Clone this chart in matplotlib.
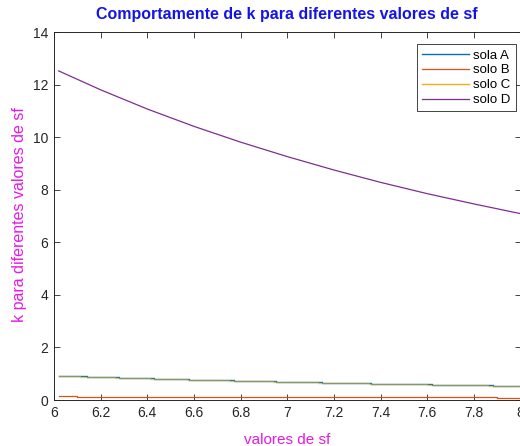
import matplotlib
matplotlib.use("Agg")
import matplotlib.pyplot as plt

plt.rcParams['font.family'] = ['Liberation Sans', 'DejaVu Sans']

# solo A, B, C: step values (breakpoint, level)
sf_A = [6.02, 6.14, 6.28, 6.43, 6.58, 6.77, 6.95, 7.15, 7.36, 7.62, 7.88, 8.0]
k_A = [0.93, 0.89, 0.85, 0.81, 0.77, 0.73, 0.69, 0.65, 0.61, 0.57, 0.53, 0.53]

sf_C = [6.02, 6.11, 6.26, 6.41, 6.57, 6.75, 6.94, 7.13, 7.35, 7.60, 7.86, 8.0]
k_C = [0.93, 0.88, 0.84, 0.80, 0.76, 0.72, 0.68, 0.64, 0.60, 0.56, 0.52, 0.52]

sf_B = [6.02, 6.10, 6.83, 7.90, 8.0]
k_B = [0.17, 0.13, 0.10, 0.08, 0.08]

# solo D: smooth curve
sf_D = [6.02, 6.2, 6.4, 6.6, 6.8, 7.0, 7.2, 7.4, 7.6, 7.8, 8.0]
k_D = [12.52, 11.80, 11.07, 10.41, 9.81, 9.26, 8.75, 8.28, 7.85, 7.46, 7.09]

labels = ['sola A', 'solo B', 'solo C', 'solo D']
colors = ['#0072BD', '#D95319', '#EDB120', '#7E2F8E']

fig = plt.figure(figsize=(5.2, 4.46), dpi=100)
ax = fig.add_axes([54/520, 1-400/446, 466.5/520, 368/446])

ax.plot(sf_A, k_A, drawstyle='steps-post', color=colors[0], lw=1.0, label=labels[0])
ax.plot(sf_B, k_B, drawstyle='steps-post', color=colors[1], lw=0.9, label=labels[1])
ax.plot(sf_C, k_C, drawstyle='steps-post', color=colors[2], lw=1.0, alpha=0.6, label=labels[2])
ax.plot(sf_D, k_D, color=colors[3], lw=0.9, label=labels[3])

ax.set_xlim(6, 8)
ax.set_ylim(0, 14)
ax.set_xticks([6, 6.2, 6.4, 6.6, 6.8, 7, 7.2, 7.4, 7.6, 7.8, 8])
ax.set_xticklabels(['6', '6.2', '6.4', '6.6', '6.8', '7', '7.2', '7.4', '7.6', '7.8', '8'])
ax.set_yticks(range(0, 15, 2))

ax.tick_params(direction='in', top=True, right=True, length=4, width=0.6,
               colors='#262626', labelsize=10, pad=4)
for s in ax.spines.values():
    s.set_color('#262626')
    s.set_linewidth(0.7)

ax.set_title('Comportamente de k para diferentes valores de sf', color='#1414E6',
             fontweight='bold', fontsize=11.5, pad=9)
ax.set_xlabel('valores de sf', color='#E619E6', fontsize=11, labelpad=10)
ax.set_ylabel('k para diferentes valores de sf', color='#E619E6', fontsize=11.5)
ax.yaxis.set_label_coords(-0.058, 0.503)

leg = ax.legend(loc='upper right', bbox_to_anchor=(516/520, 1-44/446),
                bbox_transform=fig.transFigure, fancybox=False, framealpha=1,
                edgecolor='#262626', fontsize=9.5, handlelength=3.6,
                borderpad=0.4, labelspacing=0.2, handletextpad=0.3,
                borderaxespad=0)
leg.get_frame().set_linewidth(0.6)
leg.legend_handles[2].set_alpha(1)

fig.savefig('out.png', dpi=100)
